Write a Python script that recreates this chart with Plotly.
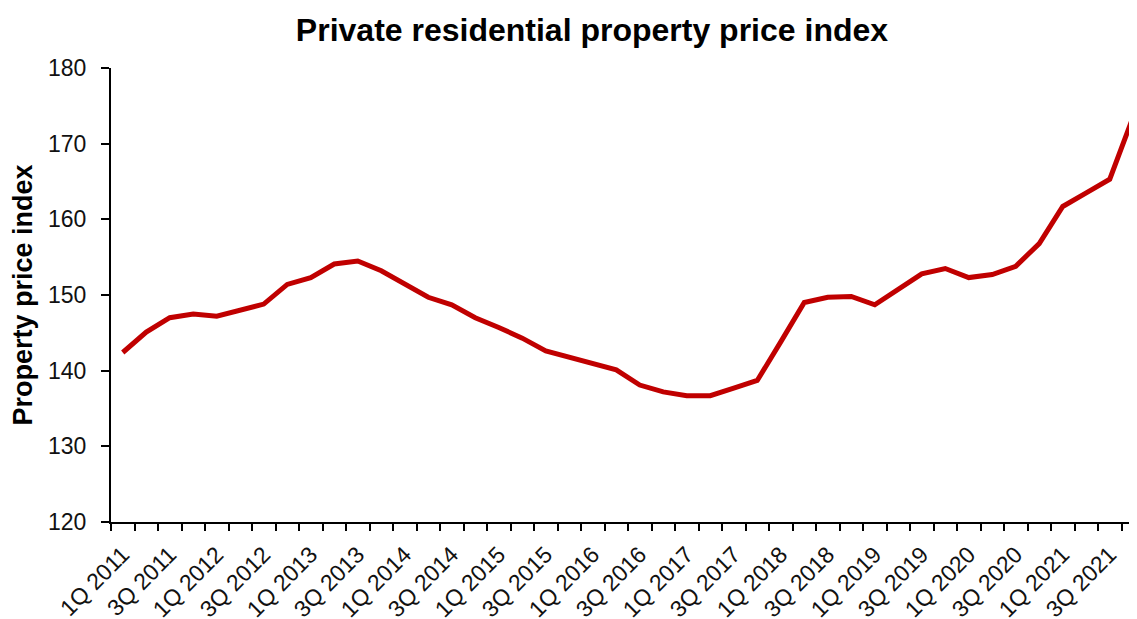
import plotly.graph_objects as go

quarters = [f"{q}Q {y}" for y in range(2011, 2022) for q in (1, 2, 3, 4)]
index_values = [
    142.4, 145.1, 147.0, 147.5, 147.2, 148.0, 148.8, 151.4,
    152.3, 154.1, 154.5, 153.2, 151.4, 149.7, 148.7, 147.0,
    145.7, 144.3, 142.6, 141.8, 141.0, 140.1, 138.1, 137.2,
    136.7, 136.7, 137.7, 138.7, 143.8, 149.0, 149.7, 149.8,
    148.7, 150.8, 152.8, 153.5, 152.3, 152.7, 153.8, 156.8,
    161.7, 163.5, 165.3, 173.6,
]
label_every = 2
title_text = "Private residential property price index"
y_title = "Property price index"
y_ticks = [120, 130, 140, 150, 160, 170, 180]

x_idx = list(range(len(quarters)))
label_pos = x_idx[::label_every]
label_txt = quarters[::label_every]

FONT = "Liberation Sans, Arial, sans-serif"

fig = go.Figure()
fig.add_trace(go.Scatter(
    x=x_idx, y=index_values, mode="lines",
    line=dict(color="#C00000", width=5),
    hovertext=quarters, showlegend=False, cliponaxis=False,
))

fig.update_layout(
    width=1137, height=619,
    margin=dict(l=103, r=0, t=60, b=105),
    paper_bgcolor="white", plot_bgcolor="white",
    font=dict(family=FONT, color="black"),
    title=dict(text=f"<b>{title_text}</b>", x=0.5136, xref="container", xanchor="center",
               y=1 - 22 / 619, yref="container", yanchor="middle",
               font=dict(size=32, family=FONT, color="black")),
)
fig.update_xaxes(
    automargin=False,
    range=[-0.5, len(quarters) - 0.5],
    tickmode="array", tickvals=label_pos, ticktext=label_txt,
    tickangle=-45, tickfont=dict(size=23, family=FONT, color="#111"),
    ticks="outside", ticklen=8, tickcolor="rgba(0,0,0,0)",
    minor=dict(tickmode="array", tickvals=[i - 0.5 for i in range(len(quarters) + 1)],
               ticks="outside", ticklen=7, tickwidth=2, tickcolor="black", showgrid=False),
    showline=True, linecolor="black", linewidth=2,
    showgrid=False, zeroline=False,
)
fig.update_yaxes(
    automargin=False,
    range=[120, 180], tickmode="array", tickvals=y_ticks,
    tickfont=dict(size=23, family=FONT, color="#111"),
    ticks="outside", ticklen=8, tickwidth=2, tickcolor="black",
    ticklabelstandoff=10,
    showline=True, linecolor="black", linewidth=2,
    showgrid=False, zeroline=False,
    title=dict(text=f"<b>{y_title}</b>", font=dict(size=27, family=FONT, color="black"), standoff=8),
)

fig.write_html("out.html")
